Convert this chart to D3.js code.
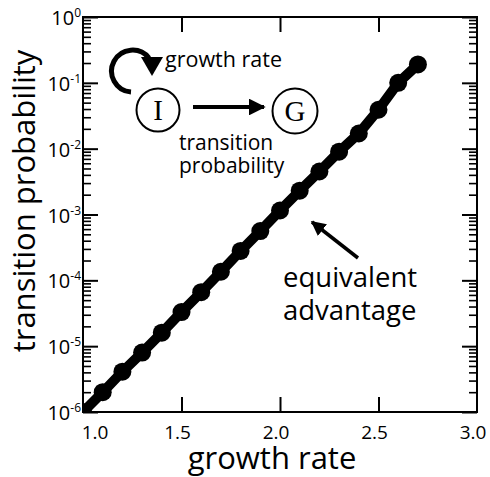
<!DOCTYPE html>
<meta charset="utf-8">
<style>
body { margin: 0; background: #fff; }
svg { font-family: "Open Sans", "Lato", sans-serif; }
.axis path { display: none; }
.axis line { stroke: #000; stroke-width: 2; }
.minor line { stroke-width: 1.6; }
</style>
<svg width="490" height="477"></svg>
<script src="https://d3js.org/d3.v7.min.js"></script>
<script>
"use strict";

// growth rate vs transition probability
var growthRate = [1.0, 1.1, 1.2, 1.3, 1.4, 1.5, 1.6, 1.7, 1.8, 1.9,
                  2.0, 2.1, 2.2, 2.3, 2.4, 2.5, 2.6, 2.7];
var transProb = [1.0e-6, 2.0e-6, 4.1e-6, 8.0e-6, 1.6e-5, 3.3e-5, 6.6e-5, 1.35e-4, 2.8e-4, 5.6e-4,
                 1.15e-3, 2.3e-3, 4.5e-3, 9.0e-3, 1.7e-2, 3.9e-2, 1.0e-1, 1.9e-1];

var xTicks = [1.0, 1.5, 2.0, 2.5, 3.0];
var xTickLabels = ["1.0", "1.5", "2.0", "2.5", "3.0"];
var yDecades = [0, -1, -2, -3, -4, -5, -6];

var svg = d3.select("svg");
var mLeft = 83, mTop = 17, w = 394, h = 395;

var x = d3.scaleLinear().domain([1, 3]).range([0, w]);
var y = d3.scaleLog().domain([1e-6, 1]).range([h, 0]);

var g = svg.append("g").attr("transform", "translate(" + mLeft + "," + mTop + ")");

var majorY = yDecades.map(function(d) { return Math.pow(10, d); });
var minorY = [];
yDecades.slice(1).forEach(function(d) {
  for (var k = 2; k <= 9; k++) minorY.push(k * Math.pow(10, d));
});
var innerX = xTicks.slice(1, -1);

// ticks, all pointing inward
g.append("g").attr("class", "axis").call(d3.axisLeft(y).tickValues(majorY).tickSize(-15).tickFormat(""));
g.append("g").attr("class", "axis minor").call(d3.axisLeft(y).tickValues(minorY).tickSize(-8).tickFormat(""));
g.append("g").attr("class", "axis").attr("transform", "translate(" + w + ",0)")
  .call(d3.axisRight(y).tickValues(majorY).tickSize(-15).tickFormat(""));
g.append("g").attr("class", "axis minor").attr("transform", "translate(" + w + ",0)")
  .call(d3.axisRight(y).tickValues(minorY).tickSize(-8).tickFormat(""));
g.append("g").attr("class", "axis").attr("transform", "translate(0," + h + ")")
  .call(d3.axisBottom(x).tickValues(innerX).tickSize(-15).tickFormat(""));
g.append("g").attr("class", "axis")
  .call(d3.axisTop(x).tickValues(innerX).tickSize(-15).tickFormat(""));

// data
svg.append("clipPath").attr("id", "clip").append("rect").attr("width", w).attr("height", h);
var pts = growthRate.map(function(d, i) { return [d, transProb[i]]; });
var plot = g.append("g").attr("clip-path", "url(#clip)");
plot.append("path").datum(pts)
  .attr("fill", "none").attr("stroke", "#000").attr("stroke-width", 10)
  .attr("d", d3.line().x(function(d) { return x(d[0]); }).y(function(d) { return y(d[1]); }));
plot.selectAll("circle").data(pts).enter().append("circle")
  .attr("cx", function(d) { return x(d[0]); })
  .attr("cy", function(d) { return y(d[1]); })
  .attr("r", 9).attr("fill", "#000");

// frame
g.append("rect").attr("width", w).attr("height", h)
  .attr("fill", "none").attr("stroke", "#000").attr("stroke-width", 2);

// tick labels
g.selectAll(".xl").data(xTicks).enter().append("text")
  .attr("x", function(d, i) { return x(d) + (i === 0 ? 12 : -4); })
  .attr("y", h + 27).attr("text-anchor", "middle").attr("font-size", 19)
  .text(function(d, i) { return xTickLabels[i]; });

var yl = g.selectAll(".yl").data(yDecades).enter().append("text")
  .attr("x", -2).attr("y", function(d) { return y(Math.pow(10, d)) + 8; })
  .attr("text-anchor", "end").attr("font-size", 20);
yl.append("tspan").text("10");
yl.append("tspan").attr("font-size", 12).attr("dy", -8).text(function(d) { return d; });

// axis titles
svg.append("text").attr("x", 272).attr("y", 469).attr("text-anchor", "middle")
  .attr("font-size", 31).text("growth rate");
svg.append("text").attr("transform", "translate(35,201) rotate(-90)").attr("text-anchor", "middle")
  .attr("font-size", 31).text("transition probability");

// arrowheads
var defs = svg.append("defs");
defs.append("marker").attr("id", "ah").attr("viewBox", "0 0 10 10")
  .attr("refX", 9).attr("refY", 5).attr("markerWidth", 4.2).attr("markerHeight", 4.2)
  .attr("orient", "auto").attr("markerUnits", "strokeWidth")
  .append("path").attr("d", "M0,0L10,5L0,10z").attr("fill", "#000");

// inset diagram
svg.append("path").attr("d", "M131,92 A21,21 0 1,1 149,58")
  .attr("fill", "none").attr("stroke", "#000").attr("stroke-width", 5);
svg.append("path").attr("d", "M141,57 L163,57 L152,76 Z").attr("fill", "#000");
svg.append("text").attr("x", 165).attr("y", 67).attr("font-size", 21.5).text("growth rate");

svg.append("circle").attr("cx", 158).attr("cy", 110).attr("r", 21.5)
  .attr("fill", "none").attr("stroke", "#000").attr("stroke-width", 2);
svg.append("circle").attr("cx", 295).attr("cy", 111).attr("r", 22.5)
  .attr("fill", "none").attr("stroke", "#000").attr("stroke-width", 2);
svg.append("text").attr("x", 158).attr("y", 120).attr("text-anchor", "middle")
  .attr("font-family", "Liberation Serif").attr("font-size", 29).text("I");
svg.append("text").attr("x", 295).attr("y", 121).attr("text-anchor", "middle")
  .attr("font-family", "Liberation Serif").attr("font-size", 29).text("G");
svg.append("line").attr("x1", 193).attr("y1", 107).attr("x2", 264).attr("y2", 107)
  .attr("stroke", "#000").attr("stroke-width", 4).attr("marker-end", "url(#ah)");
var tp = svg.append("text").attr("font-size", 21);
tp.append("tspan").attr("x", 179).attr("y", 150).text("transition");
tp.append("tspan").attr("x", 179).attr("y", 173).text("probability");

// equivalent advantage
svg.append("line").attr("x1", 358).attr("y1", 258).attr("x2", 312).attr("y2", 222)
  .attr("stroke", "#000").attr("stroke-width", 3.5).attr("marker-end", "url(#ah)");
var ea = svg.append("text").attr("font-size", 27.5);
ea.append("tspan").attr("x", 283).attr("y", 287).text("equivalent");
ea.append("tspan").attr("x", 283).attr("y", 320).text("advantage");
</script>
